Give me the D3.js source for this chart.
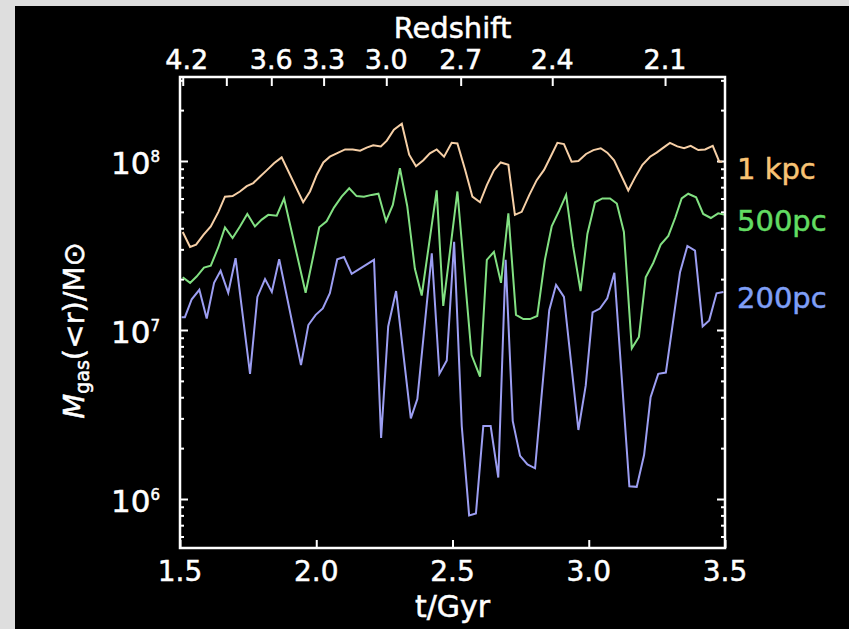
<!DOCTYPE html>
<html>
<head>
<meta charset="utf-8">
<script src="https://cdn.jsdelivr.net/npm/d3@7"></script>
<style>
  html, body { margin: 0; padding: 0; background: #dedede; }
  svg { display: block; }
  text { font-family: "DejaVu Sans", sans-serif; fill: #ffffff; }
</style>
</head>
<body>
<svg id="chart" width="849" height="629"></svg>
<script>
// ---------- data ----------
const xTicks = [1.5, 2.0, 2.5, 3.0, 3.5];
const yMajorTicks = [1e6, 1e7, 1e8];
const yMajorExponents = ["6", "7", "8"];
const redshiftLabels = ["4.2", "", "3.6", "3.3", "3.0", "2.7", "2.4", "2.1"];
const redshiftTimes = [1.510, 1.670, 1.835, 2.027, 2.257, 2.530, 2.866, 3.280];

const seriesNames = ["1 kpc", "500pc", "200pc"];

const time1kpc = [1.510,1.537,1.559,1.586,1.613,1.641,1.665,1.693,1.720,1.745,1.769,1.794,1.818,1.845,1.873,1.952,1.977,2.002,2.026,2.050,2.081,2.106,2.134,2.161,2.185,2.209,2.237,2.259,2.285,2.314,2.341,2.366,2.393,2.417,2.442,2.469,2.497,2.518,2.546,2.573,2.601,2.626,2.652,2.677,2.705,2.729,2.754,2.782,2.809,2.836,2.860,2.885,2.909,2.937,2.962,2.990,3.017,3.044,3.068,3.093,3.121,3.145,3.170,3.197,3.225,3.249,3.274,3.298,3.325,3.350,3.374,3.402,3.427,3.455,3.479,3.490];
const mass1kpc = [3.8e7,3.1e7,3.2e7,3.65e7,4.1e7,5.0e7,6.15e7,6.2e7,6.6e7,7.1e7,7.4e7,8.1e7,8.8e7,9.7e7,1.05e8,5.7e7,6.6e7,8.3e7,9.8e7,1.06e8,1.12e8,1.17e8,1.17e8,1.15e8,1.2e8,1.24e8,1.22e8,1.32e8,1.53e8,1.66e8,1.09e8,9.3e7,1.01e8,1.11e8,1.17e8,1.06e8,1.28e8,1.27e8,8.9e7,6.15e7,5.7e7,7.2e7,8.8e7,9.8e7,9.5e7,4.8e7,5.0e7,6.3e7,7.7e7,8.85e7,1.06e8,1.28e8,1.26e8,9.9e7,1.0e8,1.1e8,1.16e8,1.19e8,1.12e8,1.01e8,8.1e7,6.7e7,8.0e7,9.5e7,1.06e8,1.12e8,1.2e8,1.28e8,1.22e8,1.19e8,1.23e8,1.16e8,1.17e8,1.23e8,9.9e7,9.9e7];

const time500pc = [1.510,1.537,1.561,1.588,1.613,1.641,1.665,1.693,1.720,1.747,1.775,1.800,1.824,1.855,1.882,1.961,2.011,2.038,2.065,2.093,2.121,2.148,2.175,2.203,2.228,2.256,2.281,2.307,2.334,2.362,2.387,2.442,2.466,2.518,2.570,2.601,2.626,2.652,2.678,2.705,2.733,2.760,2.784,2.811,2.839,2.864,2.892,2.917,2.943,2.970,2.995,3.023,3.050,3.078,3.103,3.129,3.158,3.184,3.209,3.237,3.264,3.292,3.317,3.341,3.365,3.394,3.420,3.448,3.475,3.500];
const mass500pc = [2.05e7,1.9e7,2.07e7,2.34e7,2.4e7,3.1e7,4.05e7,3.5e7,4.1e7,4.86e7,4.1e7,4.5e7,4.8e7,4.75e7,6.0e7,1.66e7,4.05e7,4.4e7,5.3e7,6.15e7,6.9e7,6.2e7,6.15e7,6.3e7,6.4e7,4.4e7,5.5e7,9.05e7,5.4e7,2.3e7,1.6e7,6.7e7,1.39e7,6.6e7,7.1e6,5.3e6,2.6e7,2.9e7,1.9e7,4.9e7,1.23e7,1.16e7,1.16e7,1.21e7,2.6e7,4.1e7,5.1e7,6.3e7,3.1e7,1.7e7,3.7e7,5.7e7,6.0e7,6.0e7,5.6e7,3.8e7,7.8e6,9.1e6,2.05e7,2.5e7,3.2e7,3.6e7,4.6e7,6.0e7,6.4e7,6.1e7,4.86e7,4.6e7,4.9e7,4.8e7];

const time200pc = [1.506,1.518,1.543,1.571,1.598,1.625,1.649,1.677,1.704,1.757,1.784,1.812,1.837,1.864,1.944,1.971,1.998,2.024,2.050,2.077,2.102,2.130,2.212,2.238,2.264,2.293,2.347,2.371,2.424,2.452,2.479,2.506,2.534,2.561,2.586,2.613,2.640,2.668,2.695,2.721,2.748,2.775,2.803,2.855,2.880,2.909,2.962,2.989,3.014,3.041,3.068,3.094,3.149,3.176,3.203,3.227,3.255,3.283,3.335,3.362,3.390,3.418,3.442,3.469,3.494];
const mass200pc = [1.19e7,1.19e7,1.52e7,1.73e7,1.17e7,1.9e7,2.24e7,1.66e7,2.66e7,5.5e6,1.57e7,2.0e7,1.68e7,2.62e7,6.2e6,1.07e7,1.23e7,1.34e7,1.65e7,2.62e7,2.7e7,2.15e7,2.6e7,2.3e6,1.05e7,1.7e7,3.0e6,3.9e6,2.84e7,5.5e6,6.6e6,3.33e7,2.7e6,8.0e5,8.2e5,2.7e6,2.7e6,1.34e6,2.6e7,2.9e6,1.8e6,1.6e6,1.52e6,1.31e7,1.85e7,1.57e7,2.56e6,4.7e6,1.27e7,1.34e7,1.54e7,2.18e7,1.19e6,1.18e6,1.82e6,4.0e6,5.5e6,5.6e6,2.2e7,3.14e7,2.95e7,1.05e7,1.14e7,1.65e7,1.68e7];

// ---------- layout ----------
const svg = d3.select("#chart");
const W = 849, H = 629;
const plot = { left: 180, right: 725, top: 77, bottom: 548 };

svg.append("rect").attr("x", 0).attr("y", 0).attr("width", W).attr("height", H).attr("fill", "#dedede");
svg.append("rect").attr("x", 15).attr("y", 6).attr("width", W - 15).attr("height", H - 6).attr("fill", "#000000");

const x = d3.scaleLinear().domain([1.5, 3.5]).range([plot.left, plot.right]);
const y = d3.scaleLog().domain([5.13e5, 3.14e8]).range([plot.bottom, plot.top]);

svg.append("defs").append("clipPath").attr("id", "clip")
  .append("rect").attr("x", plot.left).attr("y", plot.top)
  .attr("width", plot.right - plot.left).attr("height", plot.bottom - plot.top);

const yMinor = [];
for (let e = 5; e <= 8; e++) {
  for (let m = 2; m <= 9; m++) {
    const v = m * Math.pow(10, e);
    if (v > y.domain()[0] && v < y.domain()[1]) yMinor.push(v);
  }
}

function styleAxis(g) {
  g.select(".domain").remove();
  g.selectAll(".tick line").attr("stroke", "#ffffff").attr("stroke-width", 2);
  g.selectAll(".tick text").remove();
}

svg.append("g").attr("transform", `translate(${plot.left},0)`)
  .call(d3.axisLeft(y).tickValues(yMajorTicks).tickSize(-8).tickFormat(""))
  .call(styleAxis);
svg.append("g").attr("transform", `translate(${plot.left},0)`)
  .call(d3.axisLeft(y).tickValues(yMinor).tickSize(-4).tickFormat(""))
  .call(styleAxis);
svg.append("g").attr("transform", `translate(${plot.right},0)`)
  .call(d3.axisRight(y).tickValues(yMajorTicks).tickSize(-8).tickFormat(""))
  .call(styleAxis);
svg.append("g").attr("transform", `translate(${plot.right},0)`)
  .call(d3.axisRight(y).tickValues(yMinor).tickSize(-4).tickFormat(""))
  .call(styleAxis);

svg.append("g").attr("transform", `translate(0,${plot.bottom})`)
  .call(d3.axisBottom(x).tickValues(xTicks).tickSize(-8).tickFormat(""))
  .call(styleAxis);
svg.append("g").attr("transform", `translate(0,${plot.top})`)
  .call(d3.axisTop(x).tickValues(redshiftTimes).tickSize(-9).tickFormat(""))
  .call(styleAxis);

const heavy = sel => sel.style("stroke", "#ffffff").style("stroke-width", 0.5);

// bottom tick labels
svg.append("g").selectAll("text").data(xTicks).join("text")
  .attr("x", d => x(d)).attr("y", 581)
  .attr("text-anchor", "middle").attr("font-size", 28)
  .call(heavy)
  .text(d => d.toFixed(1));

// top tick labels
svg.append("g").selectAll("text").data(d3.zip(redshiftTimes, redshiftLabels)).join("text")
  .attr("x", d => x(d[0]) + (d[1] === "4.2" ? 4 : 0)).attr("y", 69)
  .attr("text-anchor", "middle").attr("font-size", 27)
  .call(heavy)
  .text(d => d[1]);

// left tick labels with superscripts
const yl = svg.append("g").selectAll("text").data(d3.zip(yMajorTicks, yMajorExponents)).join("text")
  .attr("x", 160).attr("y", d => y(d[0]) + 13)
  .attr("text-anchor", "end").attr("font-size", 31)
  .call(heavy);
yl.append("tspan").text("10");
yl.append("tspan").attr("font-size", 15).attr("dy", -12).text(d => d[1]);

// axis titles
svg.append("text").attr("x", (plot.left + plot.right) / 2).attr("y", 38)
  .attr("text-anchor", "middle").attr("font-size", 29).call(heavy).text("Redshift");
svg.append("text").attr("x", (plot.left + plot.right) / 2).attr("y", 617)
  .attr("text-anchor", "middle").attr("font-size", 30).call(heavy).text("t/Gyr");

const yt = svg.append("text")
  .attr("transform", `translate(84,${(plot.top + plot.bottom) / 2 + 18}) rotate(-90)`)
  .attr("text-anchor", "middle").attr("font-size", 29).call(heavy);
yt.append("tspan").attr("font-style", "italic").text("M");
yt.append("tspan").attr("font-size", 19).attr("dy", 5).text("gas");
yt.append("tspan").attr("dy", -5).text("(<r)/M");
yt.append("tspan").text("⊙");

// lines
const lineGen = d3.line().x(d => x(d[0])).y(d => y(d[1]));
const series = [
  { t: time1kpc, m: mass1kpc, color: "#f6cfa6" },
  { t: time500pc, m: mass500pc, color: "#82e082" },
  { t: time200pc, m: mass200pc, color: "#9c9ef2" }
];
svg.append("g").attr("clip-path", "url(#clip)").selectAll("path").data(series).join("path")
  .attr("d", s => lineGen(d3.zip(s.t, s.m)))
  .attr("fill", "none").attr("stroke", s => s.color).attr("stroke-width", 2)
  .attr("stroke-linejoin", "miter");

// frame
svg.append("rect").attr("x", plot.left).attr("y", plot.top)
  .attr("width", plot.right - plot.left).attr("height", plot.bottom - plot.top)
  .attr("fill", "none").attr("stroke", "#ffffff").attr("stroke-width", 2.5);

// legend labels
const legendColors = ["#f8c475", "#62dc62", "#7f9ff7"];
const legendY = [179, 231, 308];
svg.append("g").selectAll("text").data(d3.range(3)).join("text")
  .attr("x", 737).attr("y", i => legendY[i])
  .attr("font-size", 29)
  .style("fill", i => legendColors[i])
  .style("stroke", i => legendColors[i]).style("stroke-width", 0.5)
  .text(i => seriesNames[i]);
</script>
</body>
</html>
